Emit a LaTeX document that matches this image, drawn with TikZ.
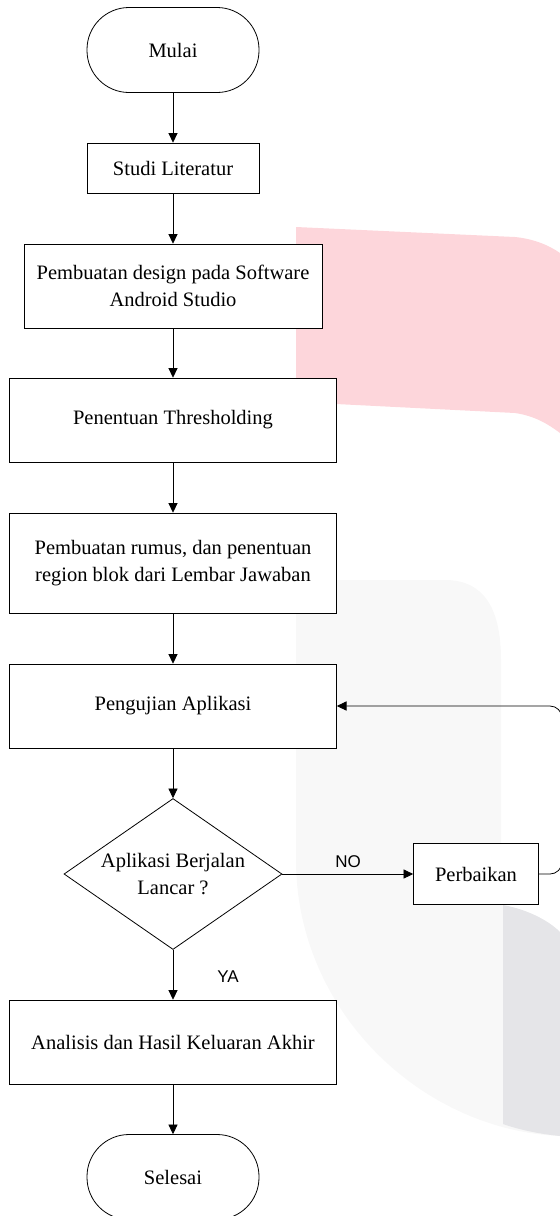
\documentclass[tikz,border=0pt]{standalone}
\usepackage{fontspec}
\setmainfont{Liberation Serif}
\newfontfamily\lblfont{Liberation Sans}
\usetikzlibrary{positioning,shapes,arrows.meta}
\definecolor{wmpink}{RGB}{253,214,219}
\definecolor{wmlight}{RGB}{248,248,248}
\definecolor{wmgray}{RGB}{229,229,232}
\tikzset{>={Triangle[length=4.8pt,width=4.6pt]},
font=\fontsize{10.25}{13.25}\selectfont,
line width=0.65pt,
tm/.style={rectangle,rounded corners=21pt,draw,fill=white,minimum width=86pt,minimum height=42.5pt},
pr/.style={rectangle,draw,fill=white,align=center,inner sep=1mm},
wide/.style={minimum width=163.5pt,minimum height=42pt},
dc/.style={diamond,draw,fill=white,align=center,inner sep=0pt,shape aspect=1.44,minimum width=109pt,minimum height=75.5pt},
el/.style={font=\lblfont\fontsize{8.5}{10}\selectfont},
}

\begin{document}
\begin{tikzpicture}[x=0.5pt,y=-0.5pt]
\useasboundingbox (0,0) rectangle (560,1216);
% watermark in the background
\fill[wmpink] (296,227) -- (515,237) .. controls (535,239) and (550,246) .. (560,253)
  -- (560,433) .. controls (548,424) and (535,416) .. (515,413) -- (296,402) -- cycle;
\fill[wmlight] (296,580) -- (445,580) .. controls (485,580) and (501,610) .. (501,660)
  -- (501,905) .. controls (530,910) and (550,922) .. (560,932) -- (560,1136)
  .. controls (420,1130) and (296,1010) .. (296,860) -- cycle;
\fill[wmgray] (503,905) .. controls (530,910) and (550,922) .. (560,932) -- (560,1136)
  .. controls (540,1134) and (520,1130) .. (503,1124) -- cycle;

\node[tm] (mulai) at (173,50) {Mulai};
\node[pr,minimum width=86pt,minimum height=25pt] (studi) at (173,168) {Studi Literatur};
\node[pr,minimum width=149pt,minimum height=42pt] (design) at (173,286) {Pembuatan design pada Software\\Android Studio};
\node[pr,wide] (thresh) at (173,420) {Penentuan Thresholding};
\node[pr,wide,minimum height=50pt] (rumus) at (173,563) {Pembuatan rumus, dan penentuan\\region blok dari Lembar Jawaban};
\node[pr,wide] (uji) at (173,706) {Pengujian Aplikasi};
\node[dc] (cek) at (173,874) {Aplikasi Berjalan\\Lancar ?};
\node[pr,minimum width=62.5pt,minimum height=30.5pt] (perb) at (476,874) {Perbaikan};
\node[pr,wide] (akhir) at (173,1042) {Analisis dan Hasil Keluaran Akhir};
\node[tm] (selesai) at (173,1177) {Selesai};
\coordinate (balik) at (562,790);
\node[el] (no) at (348,862) {NO};
\node[el] (ya) at (228,977) {YA};

\path[->]
(mulai) edge (studi)
(studi) edge (design)
(design) edge (thresh)
(thresh) edge (rumus)
(rumus) edge (uji)
(uji) edge (cek)
(cek) edge (perb)
(cek) edge (akhir)
(akhir) edge (selesai)
;
\draw[->,rounded corners=6pt] (perb) -| (balik) |- (uji);
\end{tikzpicture}
\end{document}
